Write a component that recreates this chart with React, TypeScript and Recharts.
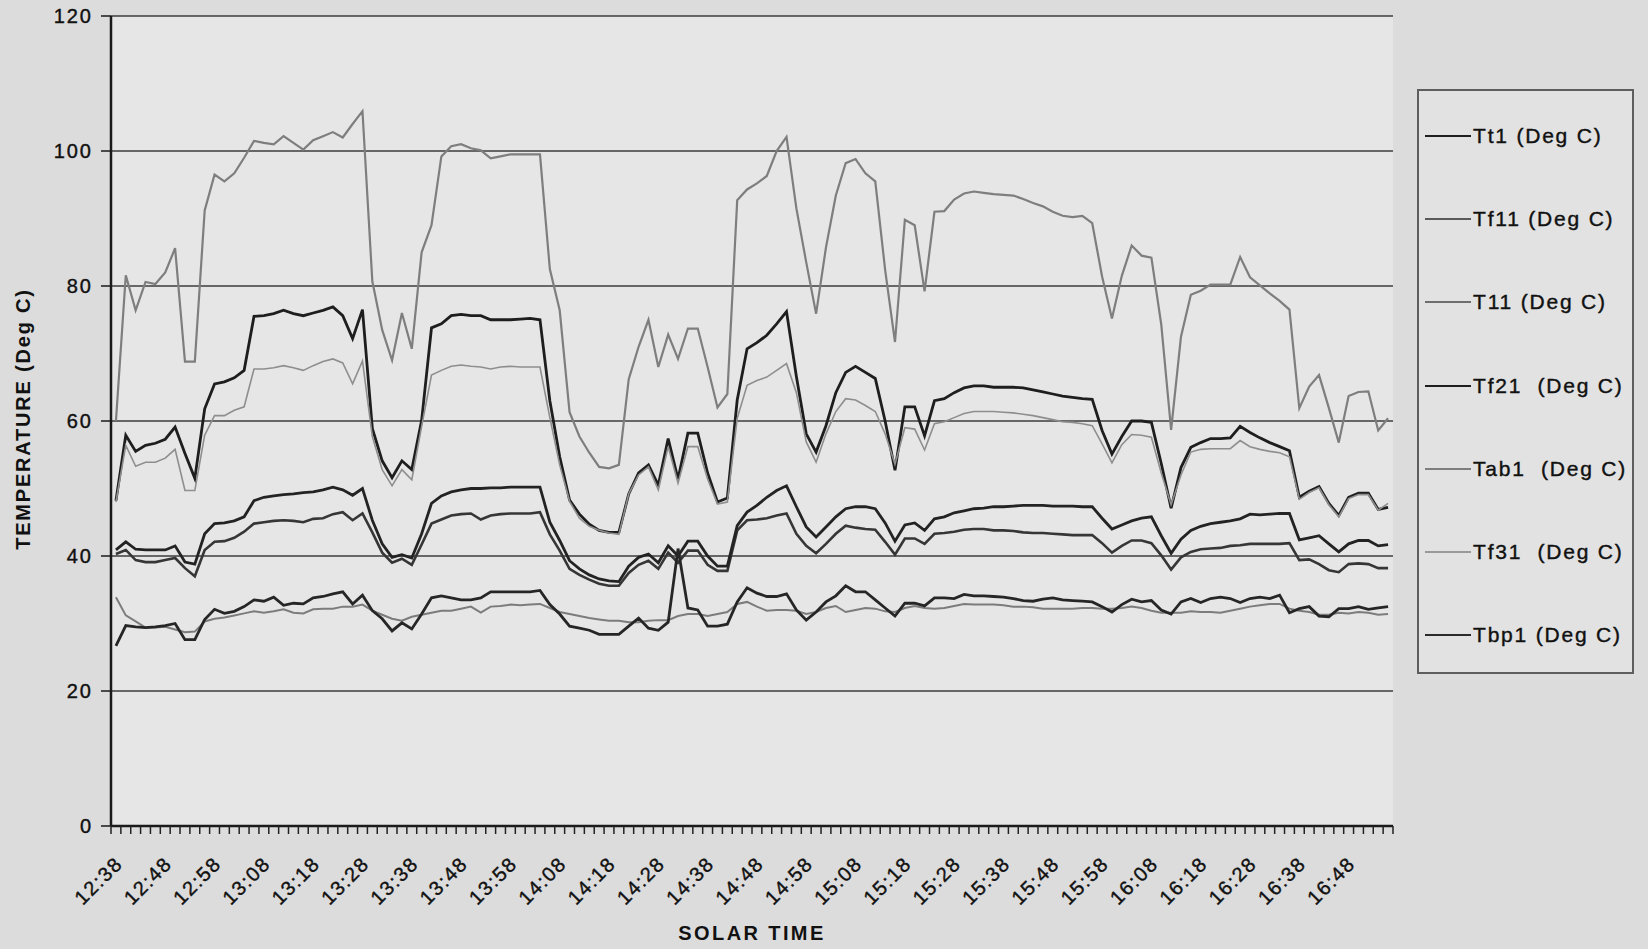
import React from 'react';
import { LineChart, Line, XAxis, YAxis, CartesianGrid } from 'recharts';

// solar time, one reading every 2 minutes
const times = [
  '12:38', '12:40', '12:42', '12:44', '12:46', '12:48', '12:50', '12:52', '12:54', '12:56',
  '12:58', '13:00', '13:02', '13:04', '13:06', '13:08', '13:10', '13:12', '13:14', '13:16',
  '13:18', '13:20', '13:22', '13:24', '13:26', '13:28', '13:30', '13:32', '13:34', '13:36',
  '13:38', '13:40', '13:42', '13:44', '13:46', '13:48', '13:50', '13:52', '13:54', '13:56',
  '13:58', '14:00', '14:02', '14:04', '14:06', '14:08', '14:10', '14:12', '14:14', '14:16',
  '14:18', '14:20', '14:22', '14:24', '14:26', '14:28', '14:30', '14:32', '14:34', '14:36',
  '14:38', '14:40', '14:42', '14:44', '14:46', '14:48', '14:50', '14:52', '14:54', '14:56',
  '14:58', '15:00', '15:02', '15:04', '15:06', '15:08', '15:10', '15:12', '15:14', '15:16',
  '15:18', '15:20', '15:22', '15:24', '15:26', '15:28', '15:30', '15:32', '15:34', '15:36',
  '15:38', '15:40', '15:42', '15:44', '15:46', '15:48', '15:50', '15:52', '15:54', '15:56',
  '15:58', '16:00', '16:02', '16:04', '16:06', '16:08', '16:10', '16:12', '16:14', '16:16',
  '16:18', '16:20', '16:22', '16:24', '16:26', '16:28', '16:30', '16:32', '16:34', '16:36',
  '16:38', '16:40', '16:42', '16:44', '16:46', '16:48', '16:50', '16:52', '16:54', '16:56',
];

const tt1 = [
  48.2, 57.9, 55.5, 56.4, 56.7, 57.3, 59.1, 55.2, 51.5, 61.8,
  65.5, 65.8, 66.4, 67.5, 75.5, 75.6, 75.9, 76.4, 75.9, 75.6,
  76, 76.4, 76.9, 75.6, 72.2, 76.5, 58.9, 54.1, 51.6, 54.1,
  52.8, 60.1, 73.8, 74.4, 75.6, 75.8, 75.6, 75.6, 75, 75,
  75, 75.1, 75.2, 75, 63, 54.7, 48.3, 46.2, 44.7, 43.8,
  43.5, 43.5, 49.2, 52.3, 53.5, 50.5, 57.4, 51.4, 58.2, 58.2,
  52.3, 48, 48.6, 63.1, 70.7, 71.6, 72.7, 74.4, 76.2, 66.6,
  58.1, 55.4, 59.3, 64.2, 67.2, 68.1, 67.2, 66.3, 60, 52.7,
  62.1, 62.1, 57.8, 63, 63.3, 64.2, 64.9, 65.2, 65.2, 65,
  65, 65, 64.9, 64.6, 64.3, 64, 63.7, 63.5, 63.3, 63.2,
  58.6, 55.1, 57.7, 60, 60, 59.8, 53.7, 47.1, 53.1, 56.1,
  56.8, 57.4, 57.4, 57.5, 59.2, 58.3, 57.5, 56.8, 56.2, 55.6,
  48.7, 49.6, 50.3, 47.8, 46, 48.7, 49.3, 49.3, 46.9, 47.2,
];

const tf11 = [
  40.3, 40.9, 39.4, 39.1, 39.1, 39.4, 39.7, 38.2, 37, 40.9,
  42.1, 42.2, 42.7, 43.6, 44.8, 45, 45.2, 45.3, 45.2, 45,
  45.5, 45.6, 46.2, 46.5, 45.3, 46.3, 43.5, 40.5, 39, 39.6,
  38.7, 41.7, 44.8, 45.4, 46, 46.2, 46.3, 45.4, 46, 46.2,
  46.3, 46.3, 46.3, 46.5, 43.2, 40.8, 38.1, 37.2, 36.5, 35.9,
  35.6, 35.6, 37.5, 38.7, 39.3, 38.1, 40.5, 39, 40.8, 40.8,
  38.7, 37.8, 37.8, 43.8, 45.3, 45.4, 45.6, 46, 46.3, 43.3,
  41.5, 40.4, 41.8, 43.3, 44.5, 44.2, 44, 43.9, 42.1, 40.2,
  42.6, 42.6, 41.8, 43.3, 43.4, 43.6, 43.9, 44, 44, 43.8,
  43.8, 43.7, 43.5, 43.4, 43.4, 43.3, 43.2, 43.1, 43.1, 43.1,
  41.9, 40.5, 41.5, 42.3, 42.3, 41.9, 40.1, 38, 39.8, 40.6,
  41, 41.1, 41.2, 41.5, 41.6, 41.8, 41.8, 41.8, 41.8, 41.9,
  39.4, 39.5, 38.8, 37.9, 37.6, 38.8, 38.9, 38.8, 38.2, 38.2,
];

const t11 = [
  33.9, 31.2, 30.3, 29.4, 29.4, 29.5, 29.1, 28.7, 28.8, 30.3,
  30.7, 30.9, 31.2, 31.5, 31.8, 31.6, 31.8, 32.1, 31.6, 31.5,
  32.1, 32.2, 32.2, 32.5, 32.5, 32.8, 31.9, 31.3, 30.7, 30.4,
  31, 31.3, 31.6, 31.9, 31.9, 32.2, 32.5, 31.6, 32.5, 32.6,
  32.8, 32.7, 32.8, 32.9, 32.3, 31.7, 31.4, 31.1, 30.8, 30.6,
  30.4, 30.4, 30.2, 30.2, 30.4, 30.5, 30.5, 31.1, 31.4, 31.4,
  31.1, 31.4, 31.7, 32.9, 33.2, 32.5, 31.9, 32, 32, 31.9,
  31.4, 31.7, 32.3, 32.6, 31.7, 32, 32.3, 32.2, 31.8, 31.7,
  32.3, 32.6, 32.3, 32.2, 32.3, 32.6, 32.9, 32.8, 32.8, 32.8,
  32.7, 32.5, 32.5, 32.4, 32.2, 32.2, 32.2, 32.2, 32.3, 32.3,
  32.2, 32.2, 32.3, 32.5, 32.3, 31.9, 31.6, 31.6, 31.6, 31.8,
  31.7, 31.7, 31.6, 31.9, 32.2, 32.5, 32.7, 32.9, 32.9, 32.2,
  31.9, 31.7, 31.3, 31.3, 31.6, 31.5, 31.7, 31.6, 31.3, 31.4,
];

const tf21 = [
  40.9, 42.1, 41, 40.9, 40.9, 40.9, 41.5, 39.1, 38.8, 43.3,
  44.8, 44.9, 45.2, 45.8, 48.2, 48.7, 48.9, 49.1, 49.2, 49.4,
  49.5, 49.8, 50.2, 49.8, 49, 50, 45.3, 41.8, 39.8, 40.2,
  39.7, 43.3, 47.8, 48.9, 49.5, 49.8, 50, 50, 50.1, 50.1,
  50.2, 50.2, 50.2, 50.2, 45, 42.3, 39.3, 38.1, 37.2, 36.6,
  36.3, 36.2, 38.5, 39.8, 40.3, 39, 41.5, 40, 42.2, 42.2,
  40, 38.5, 38.5, 44.5, 46.5, 47.5, 48.7, 49.7, 50.4, 47.3,
  44.3, 42.8, 44.3, 45.8, 47, 47.3, 47.3, 47, 44.9, 42.2,
  44.6, 44.9, 43.8, 45.5, 45.8, 46.4, 46.7, 47, 47.1, 47.3,
  47.3, 47.4, 47.5, 47.5, 47.5, 47.4, 47.4, 47.4, 47.3, 47.3,
  45.6, 44, 44.6, 45.2, 45.6, 45.8, 43, 40.4, 42.5, 43.8,
  44.4, 44.8, 45, 45.2, 45.5, 46.2, 46.1, 46.2, 46.3, 46.3,
  42.4, 42.7, 43, 41.8, 40.6, 41.8, 42.3, 42.3, 41.5, 41.7,
];

const tab1 = [
  60, 81.6, 76.4, 80.6, 80.3, 82, 85.6, 68.8, 68.8, 91.2,
  96.5, 95.5, 96.7, 99, 101.5, 101.2, 101, 102.2, 101.2, 100.2,
  101.6, 102.2, 102.8, 102, 104, 105.9, 80.7, 73.5, 69, 76,
  70.7, 85, 89, 99.2, 100.7, 101, 100.4, 100.1, 98.9, 99.2,
  99.5, 99.5, 99.5, 99.5, 82.5, 76.4, 61.3, 57.7, 55.3, 53.2,
  53, 53.5, 66.2, 71, 75, 68, 72.8, 69.2, 73.7, 73.7,
  68, 62, 64, 92.7, 94.3, 95.2, 96.3, 100, 102.1, 91.5,
  83.5, 75.9, 85.7, 93.4, 98.2, 98.8, 96.7, 95.5, 82.4, 71.7,
  89.8, 89, 79.2, 91, 91.1, 92.8, 93.7, 94, 93.8, 93.6,
  93.5, 93.4, 92.9, 92.3, 91.8, 91, 90.4, 90.2, 90.4, 89.3,
  81.4, 75.2, 81.5, 86, 84.5, 84.2, 74.3, 58.7, 72.5, 78.7,
  79.3, 80.2, 80.2, 80.2, 84.3, 81.3, 80.1, 78.9, 77.8, 76.5,
  61.9, 65.1, 66.8, 61.9, 56.8, 63.7, 64.3, 64.4, 58.6, 60.4,
];

const tf31 = [
  48, 56.4, 53.3, 53.9, 53.9, 54.5, 55.8, 49.7, 49.7, 57.9,
  60.8, 60.8, 61.6, 62.1, 67.7, 67.7, 67.9, 68.2, 67.9, 67.5,
  68.2, 68.8, 69.2, 68.6, 65.5, 68.9, 57.7, 52.8, 50.4, 52.8,
  51.3, 59.2, 66.8, 67.5, 68.1, 68.3, 68.1, 68, 67.7, 68,
  68.1, 68, 68, 68, 60.5, 53.5, 48.1, 45.6, 44.4, 43.8,
  43.4, 43.2, 49.2, 52, 53.2, 49.8, 56.2, 50.8, 56.2, 56.2,
  51.4, 47.7, 48, 60.4, 65.3, 66, 66.5, 67.5, 68.5, 64.2,
  56.9, 53.9, 58.1, 61.4, 63.3, 63.1, 62.3, 61.4, 58.1, 53.6,
  59, 58.8, 55.7, 59.6, 59.9, 60.5, 61.1, 61.4, 61.4, 61.4,
  61.3, 61.2, 61, 60.8, 60.5, 60.2, 59.9, 59.8, 59.6, 59.3,
  56.6, 53.8, 56.5, 58, 57.9, 57.6, 52.3, 47.6, 52, 55.4,
  55.8, 55.9, 55.9, 55.9, 57.1, 56.2, 55.8, 55.5, 55.3, 54.7,
  48.4, 49.4, 50.1, 47.6, 45.8, 48.5, 49.1, 49.1, 46.8, 47.8,
];

const tbp1 = [
  26.7, 29.7, 29.5, 29.4, 29.5, 29.7, 30, 27.6, 27.6, 30.6,
  32.1, 31.5, 31.8, 32.5, 33.5, 33.3, 33.9, 32.7, 33, 32.9,
  33.8, 34, 34.4, 34.7, 32.9, 34.2, 31.9, 30.7, 28.9, 30.1,
  29.2, 31.4, 33.8, 34.1, 33.8, 33.5, 33.5, 33.8, 34.7, 34.7,
  34.7, 34.7, 34.7, 34.9, 32.8, 31.4, 29.6, 29.3, 29, 28.4,
  28.4, 28.4, 29.6, 30.8, 29.3, 29, 30.2, 41.1, 32.3, 32,
  29.6, 29.6, 29.9, 33.2, 35.3, 34.5, 34, 34, 34.4, 32,
  30.5, 31.7, 33.2, 34.1, 35.6, 34.7, 34.7, 33.5, 32.3, 31.1,
  33, 33, 32.6, 33.8, 33.8, 33.7, 34.3, 34.1, 34.1, 34,
  33.9, 33.7, 33.4, 33.3, 33.6, 33.8, 33.5, 33.4, 33.3, 33.2,
  32.5, 31.7, 32.8, 33.6, 33.2, 33.4, 32, 31.4, 33.2, 33.7,
  33.1, 33.7, 33.9, 33.7, 33.1, 33.7, 33.9, 33.7, 34.2, 31.6,
  32.2, 32.5, 31.1, 31, 32.2, 32.2, 32.5, 32.1, 32.3, 32.5,
];

const yTicks = [0, 20, 40, 60, 80, 100, 120];

const seriesList = [
  { key: 'tt1', name: 'Tt1 (Deg C)', values: tt1, color: '#1e1e1e', width: 2.8, legendColor: '#1e1e1e' },
  { key: 'tf11', name: 'Tf11 (Deg C)', values: tf11, color: '#363636', width: 2.6, legendColor: '#5a5a5a' },
  { key: 't11', name: 'T11 (Deg C)', values: t11, color: '#7c7c7c', width: 2, legendColor: '#6e6e6e' },
  { key: 'tf21', name: 'Tf21  (Deg C)', values: tf21, color: '#232323', width: 2.8, legendColor: '#1e1e1e' },
  { key: 'tab1', name: 'Tab1  (Deg C)', values: tab1, color: '#7e7e7e', width: 2.2, legendColor: '#7e7e7e' },
  { key: 'tf31', name: 'Tf31  (Deg C)', values: tf31, color: '#8e8e8e', width: 1.6, legendColor: '#9a9a9a' },
  { key: 'tbp1', name: 'Tbp1 (Deg C)', values: tbp1, color: '#262626', width: 2.8, legendColor: '#2a2a2a' },
];

const data = times.map((t, i) => {
  const row: Record<string, any> = { time: t };
  seriesList.forEach(s => { row[s.key] = s.values[i]; });
  return row;
});

const FONT = '"Liberation Sans", Arial, sans-serif';
const W = 1648;
const H = 949;
const PLOT_LEFT = 111;
const PLOT_RIGHT = 1393;
const PLOT_TOP = 16;
const PLOT_BOTTOM = 826;
const STEP = (PLOT_RIGHT - PLOT_LEFT) / times.length;

// Excel-style category ticks: marks between categories, a label every 5th
const TimeTick = (props: any) => {
  const { x, y, payload } = props;
  const index = props.index ?? payload.index;
  const half = STEP / 2;
  const last = index === times.length - 1;
  return (
    <g>
      <line x1={x - half} x2={x - half} y1={y} y2={y + 8} stroke="#222" strokeWidth={1.5} />
      {last && <line x1={x + half} x2={x + half} y1={y} y2={y + 8} stroke="#222" strokeWidth={1.5} />}
      {index % 5 === 0 && (
        <text
          x={x + 8}
          y={y + 39}
          textAnchor="end"
          transform={`rotate(-45, ${x + 8}, ${y + 39})`}
          fontSize={20}
          letterSpacing={1.6}
          fontFamily={FONT}
          fill="#111"
          stroke="#111"
          strokeWidth={0.4}
        >
          {payload.value}
        </text>
      )}
    </g>
  );
};

export default function App() {
  return (
    <div style={{ position: 'fixed', left: 0, top: 0, width: W, height: H, background: '#dcdcdc', fontFamily: FONT }}>
      <LineChart
        width={W}
        height={H}
        data={data}
        margin={{ top: PLOT_TOP, right: W - PLOT_RIGHT, bottom: 0, left: 0 }}
      >
        <CartesianGrid vertical={false} stroke="#3c3c3c" strokeWidth={1.3} fill="#e6e6e6" fillOpacity={1} />
        <XAxis
          dataKey="time"
          interval={0}
          height={H - PLOT_BOTTOM}
          tickSize={0}
          tickMargin={0}
          tickLine={false}
          axisLine={{ stroke: '#1a1a1a', strokeWidth: 2.5 }}
          padding={{ left: STEP / 2, right: STEP / 2 }}
          tick={<TimeTick />}
        />
        <YAxis
          domain={[0, 120]}
          ticks={yTicks}
          interval={0}
          width={PLOT_LEFT}
          tickSize={10}
          tickMargin={8}
          axisLine={{ stroke: '#1a1a1a', strokeWidth: 2.5 }}
          tickLine={{ stroke: '#1a1a1a', strokeWidth: 1.5 }}
          tick={{ fill: '#111', stroke: '#111', strokeWidth: 0.4, fontSize: 20, fontFamily: FONT, letterSpacing: 2 }}
        />
        <YAxis
          yAxisId="frame"
          orientation="right"
          width={0}
          domain={[0, 120]}
          tick={false}
          tickLine={false}
          axisLine={{ stroke: '#1a1a1a', strokeWidth: 2.5 }}
        />
        {seriesList.map(s => (
          <Line
            key={s.key}
            type="linear"
            dataKey={s.key}
            name={s.name}
            stroke={s.color}
            strokeWidth={s.width}
            dot={false}
            activeDot={false}
            isAnimationActive={false}
          />
        ))}
      </LineChart>

      <div
        style={{
          position: 'absolute',
          left: 23,
          top: 419,
          transform: 'translate(-50%, -50%) rotate(-90deg)',
          transformOrigin: 'center',
          whiteSpace: 'pre',
          fontSize: 20,
          fontWeight: 'bold',
          letterSpacing: 1.8,
          color: '#111',
        }}
      >
        TEMPERATURE (Deg C)
      </div>

      <div
        style={{
          position: 'absolute',
          left: 752,
          top: 933,
          transform: 'translate(-50%, -50%)',
          whiteSpace: 'pre',
          fontSize: 20,
          fontWeight: 'bold',
          letterSpacing: 2.4,
          color: '#111',
        }}
      >
        SOLAR TIME
      </div>

      <div
        style={{
          position: 'absolute',
          left: 1417,
          top: 89,
          width: 217,
          height: 585,
          boxSizing: 'border-box',
          border: '2px solid #5e5e5e',
          background: '#e2e2e2',
        }}
      >
        {seriesList.map((s, i) => (
          <div
            key={s.key}
            style={{
              position: 'absolute',
              left: 6,
              top: 45 + i * 83.2 - 14,
              height: 28,
              display: 'flex',
              alignItems: 'center',
            }}
          >
            <span style={{ display: 'inline-block', width: 46, borderTop: `2.5px solid ${s.legendColor}` }} />
            <span
              style={{
                whiteSpace: 'pre',
                fontSize: 21,
                letterSpacing: 1.8,
                color: '#111',
                marginLeft: 2,
                WebkitTextStroke: '0.4px #111',
              }}
            >
              {s.name}
            </span>
          </div>
        ))}
      </div>
    </div>
  );
}
